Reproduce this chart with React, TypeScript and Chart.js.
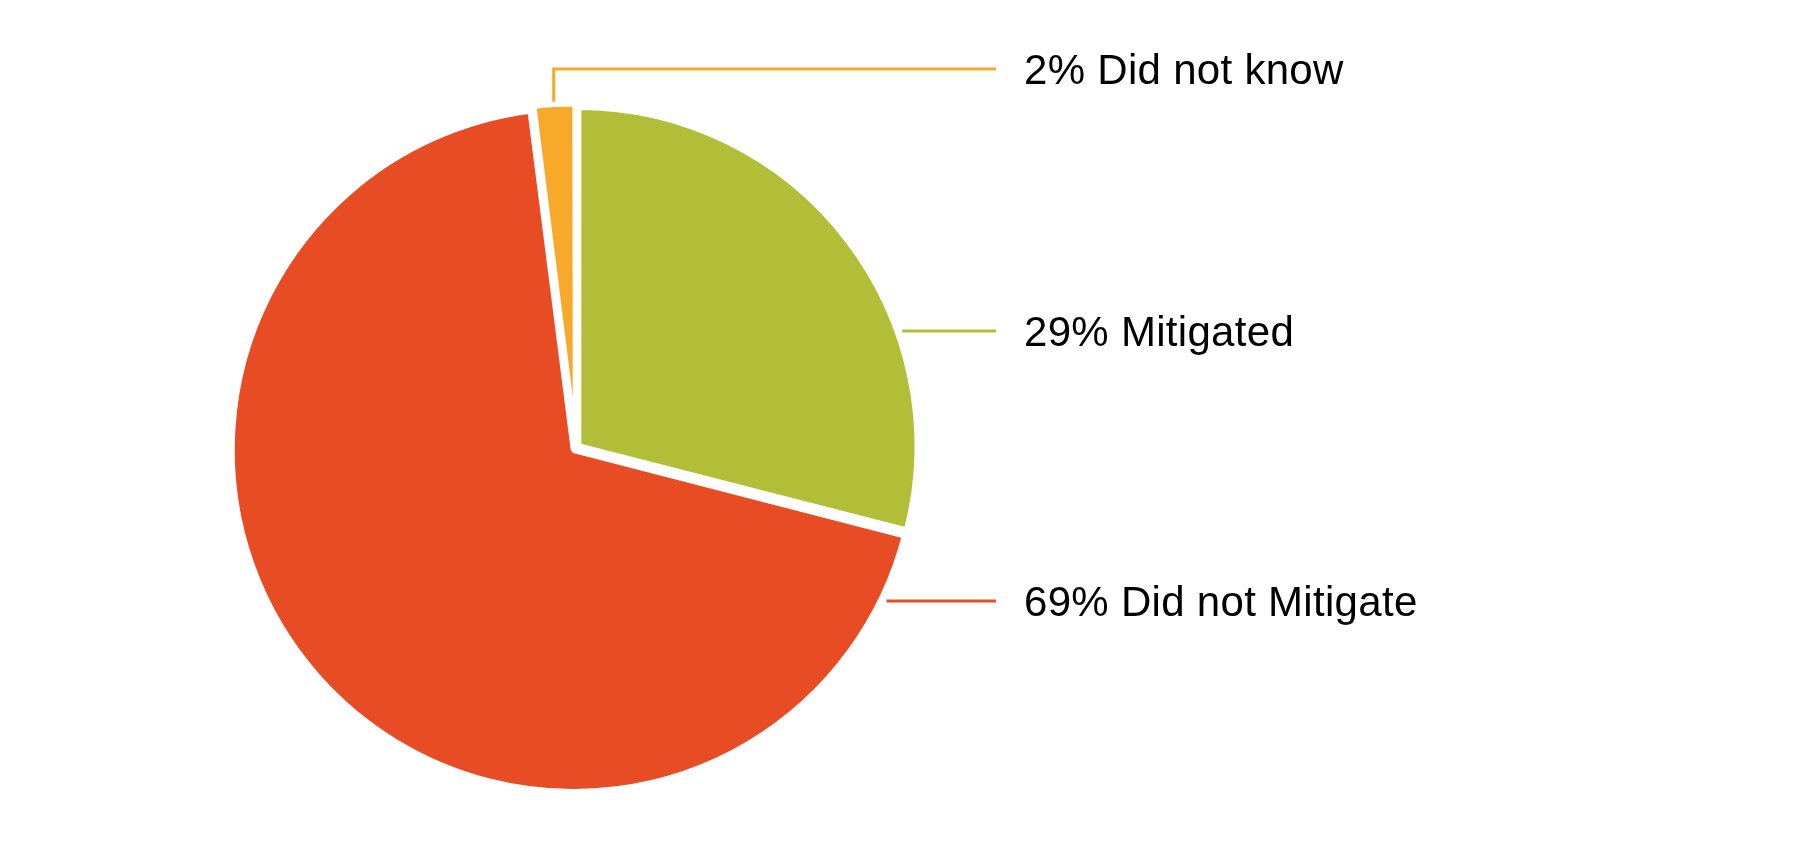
import React, { useEffect, useRef } from "react";
import { Chart, registerables } from "chart.js";

Chart.register(...registerables);

const categories = ["Mitigated", "Did not Mitigate", "Did not know"];
const values = [29, 69, 2];
const colors = ["#B2BE37", "#E74C25", "#F7AA2A"];

// label layout (line y in px, relative to canvas)
const labelLineY = [331, 601, 69];
const LINE_END_X = 996;
const TEXT_X = 1024;

const leaderPlugin = {
  id: "leaders",
  afterDraw(chart: any) {
    const ctx = chart.ctx;
    const meta = chart.getDatasetMeta(0);
    ctx.save();
    ctx.lineWidth = 3;
    meta.data.forEach((arc: any, i: number) => {
      const { x, y, outerRadius, startAngle, endAngle } = arc.getProps(
        ["x", "y", "outerRadius", "startAngle", "endAngle"],
        true
      );
      const ly = labelLineY[i];
      ctx.strokeStyle = colors[i];
      ctx.beginPath();
      const gap = 8;
      if (ly < y - outerRadius) {
        const mid = (startAngle + endAngle) / 2;
        const ax = x + Math.cos(mid) * outerRadius - 1;
        const ay = y + Math.sin(mid) * (outerRadius + gap);
        ctx.moveTo(ax, ay);
        ctx.lineTo(ax, ly);
        ctx.lineTo(LINE_END_X, ly);
      } else {
        const dy = ly - y;
        const sx = x + Math.sqrt(Math.max(outerRadius * outerRadius - dy * dy, 0)) + gap;
        ctx.moveTo(sx, ly);
        ctx.lineTo(LINE_END_X, ly);
      }
      ctx.stroke();
      ctx.fillStyle = "#000";
      ctx.font = "42px 'Liberation Sans', Arial, sans-serif";
      (ctx as any).letterSpacing = "0.3px";
      ctx.textBaseline = "alphabetic";
      ctx.textAlign = "left";
      ctx.fillText(`${values[i]}% ${categories[i]}`, TEXT_X, ly + 15);
    });
    ctx.restore();
  },
};

export default function App() {
  const ref = useRef<HTMLCanvasElement | null>(null);
  useEffect(() => {
    document.body.style.margin = "0";
    const c = new Chart(ref.current!, {
      type: "pie",
      data: {
        labels: categories,
        datasets: [
          {
            data: values,
            backgroundColor: colors,
            borderColor: "#ffffff",
            borderWidth: 6,
            offset: 12,
          },
        ],
      },
      options: {
        responsive: false,
        animation: false,
        radius: 339,
        layout: { padding: { left: 2, right: 650, top: 54, bottom: 0 } },
        plugins: { legend: { display: false }, tooltip: { enabled: false } },
      } as any,
      plugins: [leaderPlugin],
    });
    return () => c.destroy();
  }, []);
  return (
    <div style={{ width: 1800, height: 842, background: "#fff" }}>
      <canvas ref={ref} width={1800} height={842} />
    </div>
  );
}
